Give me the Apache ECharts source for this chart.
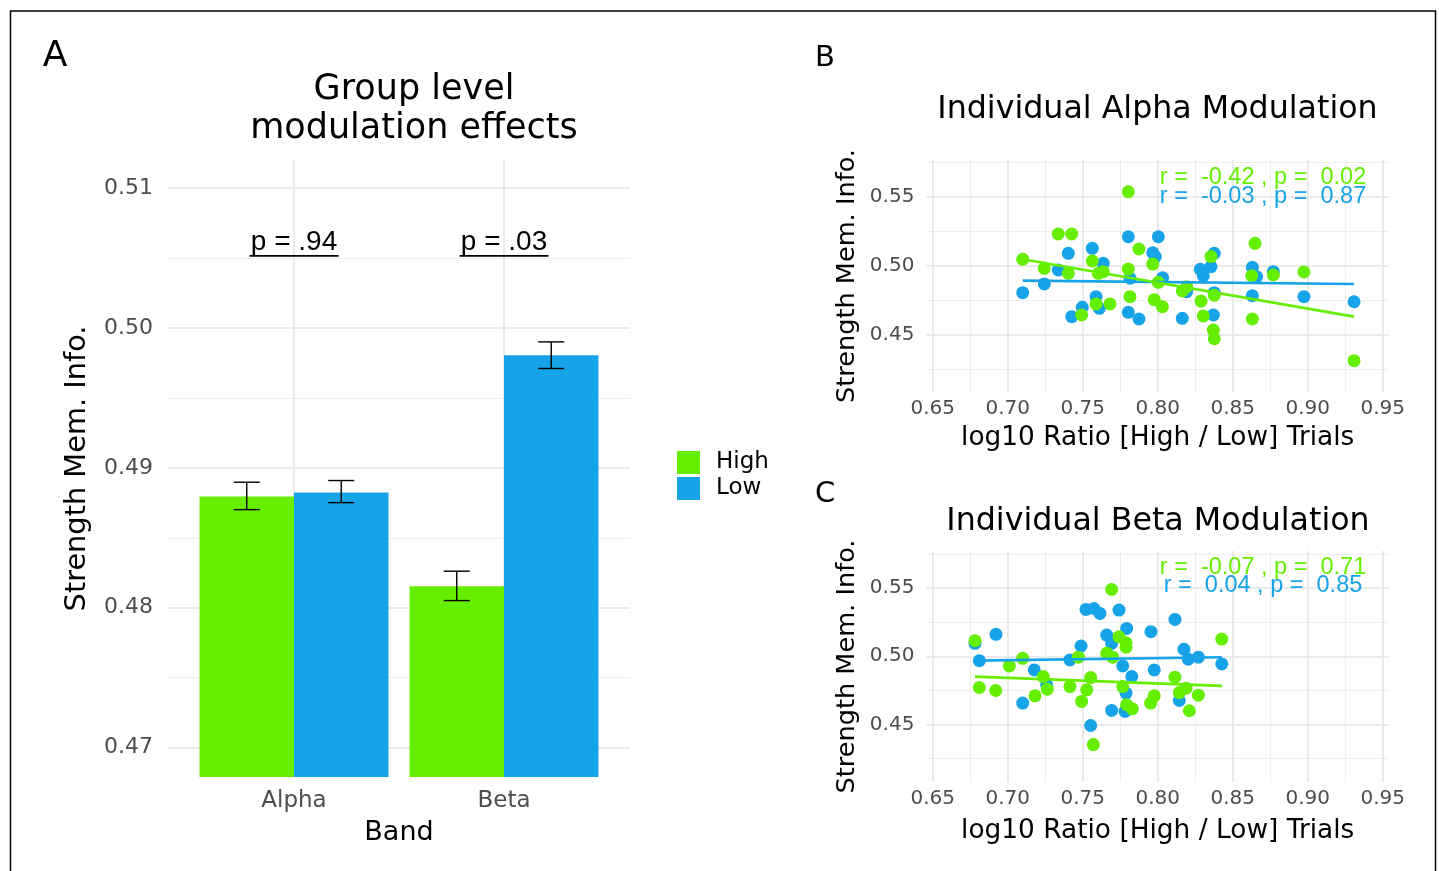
<!DOCTYPE html>
<html>
<head>
<meta charset="utf-8">
<title>Modulation effects</title>
<script src="https://cdn.jsdelivr.net/npm/echarts@6/dist/echarts.min.js"></script>
<style>
  html, body { margin: 0; padding: 0; background: #fff; }
  #main { width: 1439px; height: 871px; }
</style>
</head>
<body>
<div id="main"></div>
<script>
// colours
var GREEN = '#66ee00';
var BLUE = '#17a3e8';
var FONT = '"DejaVu Sans", sans-serif';
var ANNO_FONT = '"Liberation Sans", Arial, sans-serif';

// A: group level bars
var bandNames = ['Alpha', 'Beta'];
var barHigh = [0.48795, 0.48154];
var barLow = [0.48824, 0.49804];
var errHigh = [[0.48701, 0.48897], [0.48051, 0.48261]];
var errLow = [[0.48751, 0.48909], [0.49710, 0.49900]];
var pLabels = ['p = .94', 'p = .03'];
var barTicks = [0.47, 0.48, 0.49, 0.50, 0.51];
var barMinorTicks = [0.475, 0.485, 0.495, 0.505];

// B: individual alpha modulation  [log10 ratio, strength]
var alphaHigh = [
  [0.7100, 0.5049], [0.7244, 0.4983], [0.7337, 0.5232], [0.7427, 0.5232], [0.7404, 0.4947],
  [0.7564, 0.5036], [0.7604, 0.4947], [0.7637, 0.4959], [0.7589, 0.4725], [0.7682, 0.4725],
  [0.7493, 0.4645], [0.7804, 0.5538], [0.7804, 0.4978], [0.7815, 0.4778], [0.7875, 0.5123],
  [0.7967, 0.5014], [0.8004, 0.4882], [0.7977, 0.4756], [0.8031, 0.4705], [0.8164, 0.4819],
  [0.8193, 0.4850], [0.8289, 0.4746], [0.8304, 0.4638], [0.8355, 0.5068], [0.8377, 0.4788],
  [0.8371, 0.4536], [0.8377, 0.4473], [0.8649, 0.5164], [0.8627, 0.4930], [0.8631, 0.4616],
  [0.8771, 0.4935], [0.8975, 0.4957], [0.9309, 0.4314]
];
var alphaLow = [
  [0.7100, 0.4807], [0.7244, 0.4870], [0.7337, 0.4971], [0.7404, 0.5092], [0.7427, 0.4633],
  [0.7497, 0.4701], [0.7564, 0.5128], [0.7637, 0.5019], [0.7589, 0.4778], [0.7611, 0.4693],
  [0.7804, 0.5212], [0.7815, 0.4911], [0.7804, 0.4664], [0.7875, 0.4616], [0.8004, 0.5212],
  [0.7967, 0.5096], [0.7984, 0.5068], [0.8033, 0.4915], [0.8164, 0.4621], [0.8193, 0.4814],
  [0.8284, 0.4976], [0.8304, 0.4928], [0.8355, 0.4995], [0.8377, 0.5092], [0.8377, 0.4807],
  [0.8371, 0.4645], [0.8631, 0.4990], [0.8660, 0.4922], [0.8631, 0.4785], [0.8771, 0.4959],
  [0.8975, 0.4778], [0.9309, 0.4741]
];
var alphaFitHigh = [[0.7100, 0.5049], [0.9309, 0.4633]];
var alphaFitLow = [[0.7100, 0.4894], [0.9309, 0.4870]];
var alphaStats = ['r =  -0.42 , p =  0.02', 'r =  -0.03 , p =  0.87'];

// C: individual beta modulation
var betaHigh = [
  [0.6782, 0.5114], [0.6811, 0.4771], [0.6920, 0.4749], [0.7011, 0.4929], [0.7100, 0.4985],
  [0.7182, 0.4710], [0.7237, 0.4851], [0.7264, 0.4759], [0.7415, 0.4778], [0.7471, 0.4993],
  [0.7553, 0.4844], [0.7527, 0.4754], [0.7493, 0.4669], [0.7571, 0.4353], [0.7693, 0.5489],
  [0.7660, 0.5022], [0.7700, 0.4993], [0.7742, 0.5143], [0.7789, 0.5066], [0.7789, 0.5099],
  [0.7767, 0.4778], [0.7793, 0.4645], [0.7831, 0.4615], [0.7953, 0.4657], [0.7977, 0.4710],
  [0.8115, 0.4847], [0.8144, 0.4734], [0.8189, 0.4766], [0.8211, 0.4601], [0.8271, 0.4715],
  [0.8427, 0.5126]
];
var betaLow = [
  [0.6782, 0.5095], [0.6811, 0.4968], [0.6922, 0.5161], [0.7100, 0.4657], [0.7177, 0.4900],
  [0.7260, 0.4790], [0.7415, 0.4973], [0.7489, 0.5075], [0.7522, 0.5343], [0.7575, 0.5350],
  [0.7615, 0.5314], [0.7553, 0.4493], [0.7660, 0.5155], [0.7693, 0.5095], [0.7742, 0.5338],
  [0.7793, 0.5204], [0.7767, 0.4929], [0.7827, 0.4851], [0.7789, 0.4730], [0.7693, 0.4603],
  [0.7782, 0.4596], [0.7955, 0.5180], [0.7977, 0.4900], [0.8115, 0.5270], [0.8175, 0.5051],
  [0.8204, 0.4978], [0.8271, 0.4993], [0.8144, 0.4676], [0.8427, 0.4944]
];
var betaFitHigh = [[0.6782, 0.4851], [0.8427, 0.4783]];
var betaFitLow = [[0.6782, 0.4968], [0.8427, 0.4993]];
var betaStats = ['r =  -0.07 , p =  0.71', 'r =  0.04 , p =  0.85'];

// scatter panel ticks
var ratioTicks = [0.65, 0.70, 0.75, 0.80, 0.85, 0.90, 0.95];
var ratioMinorTicks = [0.675, 0.725, 0.775, 0.825, 0.875, 0.925];
var strengthTicks = [0.45, 0.50, 0.55];
var strengthMinorTicks = [0.425, 0.475, 0.525, 0.575];

modPage = {
  init: function () {
    modPage.chart = echarts.init(document.getElementById('main'));
    modPage.chart.setOption(modPage.buildOption());
  },

  majorLine: { lineStyle: { color: '#e5e5e5', width: 1.6 } },
  minorLine: { lineStyle: { color: '#ececec', width: 0.9 } },

  // one value axis, with gridlines drawn at the given values
  axis: function (grid, min, max, ticks, labelTicks, major, extra) {
    var ax = {
      type: 'value', gridIndex: grid, min: min, max: max,
      axisLine: { show: false },
      axisTick: { show: false, customValues: ticks },
      axisLabel: labelTicks ? {
        customValues: labelTicks, color: '#4d4d4d', fontFamily: FONT, fontSize: 20,
        formatter: function (v) { return v.toFixed(2); }
      } : { show: false },
      splitLine: major ? modPage.majorLine : modPage.minorLine
    };
    for (var k in extra) { ax[k] = extra[k]; }
    return ax;
  },

  errorBar: function (offset) {
    return function (params, api) {
      var lo = api.coord([api.value(0), api.value(1)]);
      var hi = api.coord([api.value(0), api.value(2)]);
      var x = lo[0] + offset, w = 13;
      var st = { stroke: '#000', lineWidth: 1.4 };
      return { type: 'group', children: [
        { type: 'line', shape: { x1: x, y1: hi[1], x2: x, y2: lo[1] }, style: st },
        { type: 'line', shape: { x1: x - w, y1: hi[1], x2: x + w, y2: hi[1] }, style: st },
        { type: 'line', shape: { x1: x - w, y1: lo[1], x2: x + w, y2: lo[1] }, style: st }
      ] };
    };
  },

  statsText: function (texts) {
    return function (params, api) {
      var c = api.coord([api.value(0), api.value(1)]);
      return { type: 'text', x: c[0], y: c[1], style: {
        text: texts[params.dataIndex], font: '23.5px ' + ANNO_FONT,
        fill: params.dataIndex === 0 ? GREEN : BLUE,
        align: 'center', verticalAlign: 'middle'
      } };
    };
  },

  scatterSeries: function (name, data, color, xi, yi) {
    return { name: name, type: 'scatter', xAxisIndex: xi, yAxisIndex: yi, data: data,
      symbolSize: 13, itemStyle: { color: color, opacity: 1 } };
  },

  fitSeries: function (name, data, color, xi, yi) {
    return { name: name, type: 'line', xAxisIndex: xi, yAxisIndex: yi, data: data,
      showSymbol: false, lineStyle: { color: color, width: 2.6 }, z: 3 };
  },

  buildOption: function () {
    var yName = 'Strength Mem. Info.';
    var xName = 'log10 Ratio [High / Low] Trials';
    var nameStyle = function (size) { return { color: '#000', fontFamily: FONT, fontSize: size }; };
    var titleStyle = function (size) {
      return { fontFamily: FONT, fontSize: size, fontWeight: 'normal', color: '#000', lineHeight: 39 };
    };

    var highBars = barHigh.map(function (v, i) { return [i + 1, v]; });
    var lowBars = barLow.map(function (v, i) { return [i + 1, v]; });
    var highErr = errHigh.map(function (e, i) { return [i + 1, e[0], e[1]]; });
    var lowErr = errLow.map(function (e, i) { return [i + 1, e[0], e[1]]; });

    var xAxes = [
      // A
      modPage.axis(0, 0.4, 2.6, [1, 2], null, true, {
        axisLabel: { customValues: [1, 2], color: '#4d4d4d', fontFamily: FONT, fontSize: 23, margin: 13,
          formatter: function (v) { return bandNames[Math.round(v) - 1]; } },
        name: 'Band', nameLocation: 'middle', nameGap: 42, nameTextStyle: nameStyle(27)
      }),
      // B
      modPage.axis(1, 0.6458, 0.9542, ratioTicks, ratioTicks, true, {
        name: xName, nameLocation: 'middle', nameGap: 33, nameTextStyle: nameStyle(26.4)
      }),
      modPage.axis(1, 0.6458, 0.9542, ratioMinorTicks, null, false),
      // C
      modPage.axis(2, 0.6458, 0.9542, ratioTicks, ratioTicks, true, {
        name: xName, nameLocation: 'middle', nameGap: 36, nameTextStyle: nameStyle(26.4)
      }),
      modPage.axis(2, 0.6458, 0.9542, ratioMinorTicks, null, false)
    ];
    xAxes[1].axisLabel.margin = 7;
    xAxes[3].axisLabel.margin = 7;

    var yAxes = [
      modPage.axis(0, 0.4679, 0.512, barTicks, barTicks, true, {
        name: yName, nameLocation: 'middle', nameRotate: 90, nameGap: 76, nameTextStyle: nameStyle(28.8)
      }),
      modPage.axis(0, 0.4679, 0.512, barMinorTicks, null, false),
      modPage.axis(1, 0.4087, 0.5768, strengthTicks, strengthTicks, true, {
        name: yName, nameLocation: 'middle', nameRotate: 90, nameGap: 66, nameTextStyle: nameStyle(25.6)
      }),
      modPage.axis(1, 0.4087, 0.5768, strengthMinorTicks, null, false),
      modPage.axis(2, 0.4079, 0.5771, strengthTicks, strengthTicks, true, {
        name: yName, nameLocation: 'middle', nameRotate: 90, nameGap: 66, nameTextStyle: nameStyle(25.6)
      }),
      modPage.axis(2, 0.4079, 0.5771, strengthMinorTicks, null, false)
    ];
    yAxes[0].axisLabel.fontSize = 22;
    yAxes[0].axisLabel.margin = 15;
    yAxes[2].axisLabel.margin = 12;
    yAxes[4].axisLabel.margin = 12;

    return {
      animation: false,
      backgroundColor: '#fff',
      textStyle: { fontFamily: FONT },
      title: [
        { text: 'Group level\nmodulation effects', left: 414, top: 70, padding: 0, textAlign: 'center',
          textStyle: titleStyle(35) },
        { text: 'Individual Alpha Modulation', left: 1157.5, top: 94, padding: 0, textAlign: 'center',
          textStyle: { fontFamily: FONT, fontSize: 31.7, fontWeight: 'normal', color: '#000' } },
        { text: 'Individual Beta Modulation', left: 1158, top: 506, padding: 0, textAlign: 'center',
          textStyle: { fontFamily: FONT, fontSize: 31.7, fontWeight: 'normal', color: '#000' } }
      ],
      legend: {
        orient: 'vertical', left: 677, top: 451, padding: 0,
        itemWidth: 23, itemHeight: 23, itemGap: 3, icon: 'rect',
        data: [{ name: 'High', itemStyle: { color: GREEN } }, { name: 'Low', itemStyle: { color: BLUE } }],
        textStyle: { fontFamily: FONT, fontSize: 23, color: '#000', padding: [3, 0, 0, 11] }
      },
      graphic: [
        { type: 'rect', shape: { x: 10.5, y: 11, width: 1425, height: 900 },
          style: { fill: 'none', stroke: '#000', lineWidth: 1.5 } },
        { type: 'text', x: 55, y: 57, style: { text: 'A', font: '36px ' + FONT, fill: '#000', align: 'center', verticalAlign: 'middle' } },
        { type: 'text', x: 825, y: 58, style: { text: 'B', font: '29px ' + FONT, fill: '#000', align: 'center', verticalAlign: 'middle' } },
        { type: 'text', x: 825, y: 494, style: { text: 'C', font: '29px ' + FONT, fill: '#000', align: 'center', verticalAlign: 'middle' } }
      ],
      grid: [
        { left: 168, top: 160, width: 462, height: 617 },
        { left: 926.4, top: 160, width: 462.6, height: 232 },
        { left: 926.4, top: 551, width: 462.6, height: 231 }
      ],
      xAxis: xAxes,
      yAxis: yAxes,
      series: [
        // A
        { name: 'High', type: 'bar', data: highBars, barWidth: 94.5, barGap: '0%',
          itemStyle: { color: GREEN }, xAxisIndex: 0, yAxisIndex: 0 },
        { name: 'Low', type: 'bar', data: lowBars, barWidth: 94.5, barGap: '0%',
          itemStyle: { color: BLUE }, xAxisIndex: 0, yAxisIndex: 0 },
        { type: 'custom', data: highErr, renderItem: modPage.errorBar(-47.25),
          encode: { x: 0, y: [1, 2] }, xAxisIndex: 0, yAxisIndex: 0, z: 5 },
        { type: 'custom', data: lowErr, renderItem: modPage.errorBar(47.25),
          encode: { x: 0, y: [1, 2] }, xAxisIndex: 0, yAxisIndex: 0, z: 5 },
        { type: 'custom', data: [[1, 0.50611], [2, 0.50611]], xAxisIndex: 0, yAxisIndex: 0, z: 5,
          renderItem: function (params, api) {
            var c = api.coord([api.value(0), api.value(1)]);
            return { type: 'group', children: [
              { type: 'text', x: c[0], y: c[1], style: { text: pLabels[params.dataIndex],
                font: '28px ' + ANNO_FONT, fill: '#000', align: 'center', verticalAlign: 'middle' } },
              { type: 'line', shape: { x1: c[0] - 44.5, y1: c[1] + 13.5, x2: c[0] + 44.5, y2: c[1] + 13.5 },
                style: { stroke: '#000', lineWidth: 1.8 } }
            ] };
          } },
        // B
        modPage.scatterSeries('Low', alphaLow, BLUE, 1, 2),
        modPage.scatterSeries('High', alphaHigh, GREEN, 1, 2),
        modPage.fitSeries('Low', alphaFitLow, BLUE, 1, 2),
        modPage.fitSeries('High', alphaFitHigh, GREEN, 1, 2),
        { type: 'custom', data: [[0.8702, 0.5638], [0.8702, 0.5507]], xAxisIndex: 1, yAxisIndex: 2,
          renderItem: modPage.statsText(alphaStats), z: 6 },
        // C
        modPage.scatterSeries('Low', betaLow, BLUE, 3, 4),
        modPage.scatterSeries('High', betaHigh, GREEN, 3, 4),
        modPage.fitSeries('Low', betaFitLow, BLUE, 3, 4),
        modPage.fitSeries('High', betaFitHigh, GREEN, 3, 4),
        { type: 'custom', data: [[0.8702, 0.5647], [0.8702, 0.5515]], xAxisIndex: 3, yAxisIndex: 4,
          renderItem: modPage.statsText(betaStats), z: 6 }
      ]
    };
  }
};

modPage.init();
</script>
</body>
</html>
